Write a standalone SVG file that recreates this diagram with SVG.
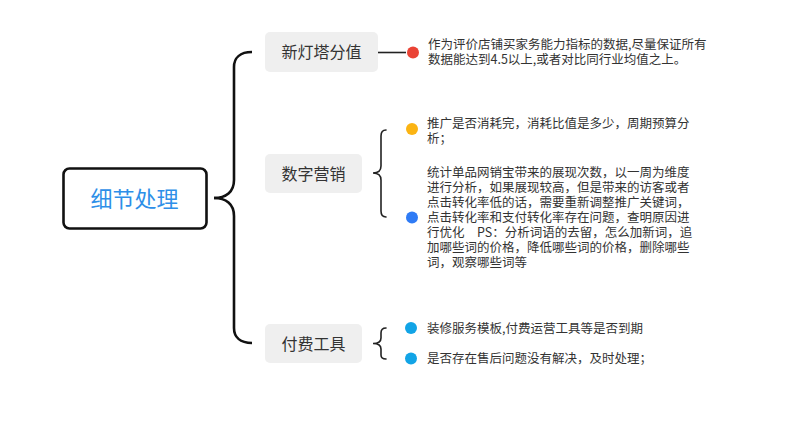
<svg xmlns="http://www.w3.org/2000/svg" width="800" height="446" viewBox="0 0 800 446">
<style>
text{font-family:"Noto Sans CJK SC","Noto Sans",sans-serif;}
.node rect{fill:#efefef;}
.lbl{font-size:16px;fill:#333;text-anchor:middle;}
.desc{font-size:12.5px;fill:#333;}
.brace{fill:none;stroke:#222;stroke-width:1.6;stroke-linecap:round;}
</style>
<rect width="800" height="446" fill="#fff"/>
<g id="connectors">
<path d="M214,198 C226,198 234,192 234,180 L234,67 C234,58 240,52 252,52" fill="none" stroke="#111" stroke-width="2.6"/>
<path d="M214,198 C226,198 234,204 234,216 L234,328 C234,337 240,343 252,343" fill="none" stroke="#111" stroke-width="2.6"/>
<line x1="378" y1="52.5" x2="406" y2="52.5" stroke="#222" stroke-width="1.6"/>
<path class="brace" d="M386,130 C382.5,130 381,132 381,136 L381,166 C381,171 378,173 373,173 C378,173 381,175 381,180 L381,211 C381,215 382.5,217 386,217"/>
<path class="brace" d="M386,328 C382.5,328 381,330 381,333 L381,338 C381,342 378,343.5 373,343.5 C378,343.5 381,345 381,349 L381,355 C381,358 382.5,359 386,359"/>
</g>
<g id="root">
<rect x="63.5" y="168.5" width="143" height="60" rx="6" fill="#fff" stroke="#111" stroke-width="2.6"/>
<text x="134.5" y="206.5" font-size="22" fill="#2e8fe8" text-anchor="middle">细节处理</text>
</g>
<g id="node-xindengta" class="node">
<rect x="265" y="32" width="113" height="40" rx="5"/>
<text class="lbl" x="321.5" y="58">新灯塔分值</text>
</g>
<g id="node-shuzi" class="node">
<rect x="265" y="154" width="97" height="39" rx="5"/>
<text class="lbl" x="313.5" y="179.5">数字营销</text>
</g>
<g id="node-fufei" class="node">
<rect x="265" y="324" width="97" height="39" rx="5"/>
<text class="lbl" x="313.5" y="349.5">付费工具</text>
</g>
<g id="leaf-red">
<circle cx="413" cy="52.5" r="6" fill="#ea4335"/>
<text class="desc" x="428" y="49">作为评价店铺买家务能力指标的数据,尽量保证所有<tspan x="428" dy="15">数据能达到4.5以上,或者对比同行业均值之上。</tspan></text>
</g>
<g id="leaf-orange">
<circle cx="412" cy="129" r="6" fill="#fbb413"/>
<text class="desc" x="427" y="128">推广是否消耗完，消耗比值是多少，周期预算分<tspan x="427" dy="15">析；</tspan></text>
</g>
<g id="leaf-blue">
<circle cx="412" cy="217.5" r="6" fill="#2f7bf5"/>
<text class="desc" x="427" y="177" xml:space="preserve">统计单品网销宝带来的展现次数，以一周为维度<tspan x="427" dy="15">进行分析，如果展现较高，但是带来的访客或者</tspan><tspan x="427" dy="15">点击转化率低的话，需要重新调整推广关键词，</tspan><tspan x="427" dy="15">点击转化率和支付转化率存在问题，查明原因进</tspan><tspan x="427" dy="15">行优化　PS：分析词语的去留，怎么加新词，追</tspan><tspan x="427" dy="15">加哪些词的价格，降低哪些词的价格，删除哪些</tspan><tspan x="427" dy="15">词，观察哪些词等</tspan></text>
</g>
<g id="leaf-cyan1">
<circle cx="411" cy="328" r="6" fill="#12a4e6"/>
<text class="desc" x="427" y="332.5">装修服务模板,付费运营工具等是否到期</text>
</g>
<g id="leaf-cyan2">
<circle cx="411" cy="358.5" r="6" fill="#12a4e6"/>
<text class="desc" x="427" y="363">是否存在售后问题没有解决，及时处理；</text>
</g>
</svg>
